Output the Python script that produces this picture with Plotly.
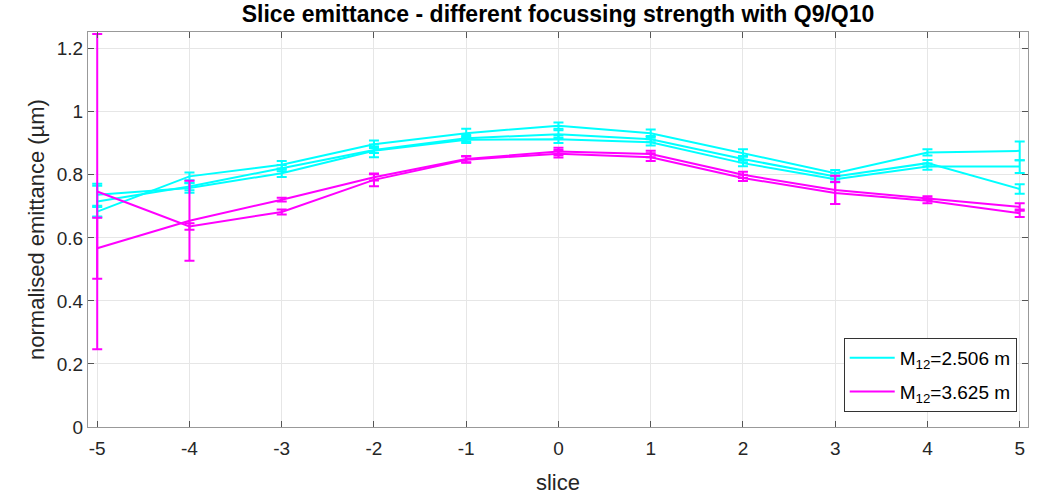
import plotly.graph_objects as go

slices = [-5, -4, -3, -2, -1, 0, 1, 2, 3, 4, 5]

# M12 = 2.506 m (three measurements, cyan)
cyan_a = [0.683, 0.795, 0.832, 0.897, 0.932, 0.956, 0.932, 0.869, 0.805, 0.871, 0.876]
cyan_a_err = [0.015, 0.012, 0.012, 0.012, 0.014, 0.010, 0.012, 0.012, 0.010, 0.010, 0.030]
cyan_b = [0.715, 0.763, 0.821, 0.879, 0.916, 0.929, 0.913, 0.850, 0.795, 0.837, 0.755]
cyan_b_err = [0.050, 0.012, 0.010, 0.010, 0.010, 0.012, 0.010, 0.010, 0.010, 0.010, 0.015]
cyan_c = [0.737, 0.758, 0.805, 0.876, 0.911, 0.913, 0.903, 0.837, 0.786, 0.826, 0.826]
cyan_c_err = [0.035, 0.015, 0.012, 0.020, 0.010, 0.012, 0.010, 0.010, 0.010, 0.010, 0.020]

# M12 = 3.625 m (two measurements, magenta)
mag_a = [0.747, 0.636, 0.682, 0.784, 0.848, 0.867, 0.856, 0.790, 0.742, 0.718, 0.678]
mag_a_err = [0.500, 0.010, 0.008, 0.020, 0.010, 0.012, 0.012, 0.010, 0.035, 0.008, 0.012]
mag_b = [0.567, 0.654, 0.721, 0.792, 0.850, 0.874, 0.866, 0.800, 0.752, 0.726, 0.698]
mag_b_err = [0.097, 0.127, 0.006, 0.010, 0.010, 0.012, 0.010, 0.010, 0.045, 0.006, 0.012]

legend_cyan = "M<sub>12</sub>=2.506 m"
legend_mag = "M<sub>12</sub>=3.625 m"

x_ticks = [-5, -4, -3, -2, -1, 0, 1, 2, 3, 4, 5]
x_ticktext = ["-5", "-4", "-3", "-2", "-1", "0", "1", "2", "3", "4", "5"]
y_ticks = [0, 0.2, 0.4, 0.6, 0.8, 1.0, 1.2]
y_ticktext = ["0", "0.2", "0.4", "0.6", "0.8", "1", "1.2"]

CYAN = "#00FFFF"
MAGENTA = "#FF00FF"
FONT = "Liberation Sans, Arial, sans-serif"

fig = go.Figure()

series = [
    (cyan_a, cyan_a_err, CYAN, legend_cyan, True, "c"),
    (cyan_b, cyan_b_err, CYAN, legend_cyan, False, "c"),
    (cyan_c, cyan_c_err, CYAN, legend_cyan, False, "c"),
    (mag_a, mag_a_err, MAGENTA, legend_mag, True, "m"),
    (mag_b, mag_b_err, MAGENTA, legend_mag, False, "m"),
]

for ys, errs, col, name, show, grp in series:
    fig.add_trace(go.Scatter(
        x=slices, y=ys, mode="lines", name=name, showlegend=show,
        legendgroup=grp,
        line=dict(color=col, width=2),
        error_y=dict(type="data", array=errs, visible=True,
                     color=col, thickness=2, width=5),
    ))

axis_col = "#999999"
tick_font = dict(family=FONT, size=19, color="#262626")

fig.update_layout(
    width=1043, height=495,
    margin=dict(l=88, r=15, t=32, b=68),
    paper_bgcolor="white", plot_bgcolor="white",
    title=dict(
        text="<b>Slice emittance - different focussing strength with Q9/Q10</b>",
        x=(88 + 470) / 1043, xanchor="center", y=1 - 14 / 495, yanchor="middle",
        font=dict(family=FONT, size=23, color="black"),
    ),
    legend=dict(
        x=0.988, xanchor="right", y=0.038, yanchor="bottom",
        bgcolor="white", bordercolor="#333333", borderwidth=1,
        font=dict(family=FONT, size=19, color="black"),
        tracegroupgap=6, itemwidth=45,
    ),
    showlegend=True,
)

fig.update_xaxes(
    range=[-5.1, 5.09],
    tickvals=x_ticks, ticktext=x_ticktext,
    showgrid=True, gridcolor="#E6E6E6", gridwidth=1,
    zeroline=False, automargin=False,
    showline=True, linecolor=axis_col, linewidth=1, mirror="ticks",
    ticks="inside", ticklen=6, tickcolor="#555555",
    tickfont=tick_font, ticklabelstandoff=4,
    title=dict(text="slice", font=dict(family=FONT, size=22, color="#262626"), standoff=17),
)
fig.update_yaxes(
    range=[0, 1.253],
    tickvals=y_ticks, ticktext=y_ticktext,
    showgrid=True, gridcolor="#E6E6E6", gridwidth=1,
    zeroline=False, automargin=False,
    showline=True, linecolor=axis_col, linewidth=1, mirror="ticks",
    ticks="inside", ticklen=6, tickcolor="#555555",
    tickfont=tick_font,
    title=dict(text="normalised emittance (µm)", font=dict(family=FONT, size=22, color="#262626"), standoff=6),
)

fig.write_html("out.html")
